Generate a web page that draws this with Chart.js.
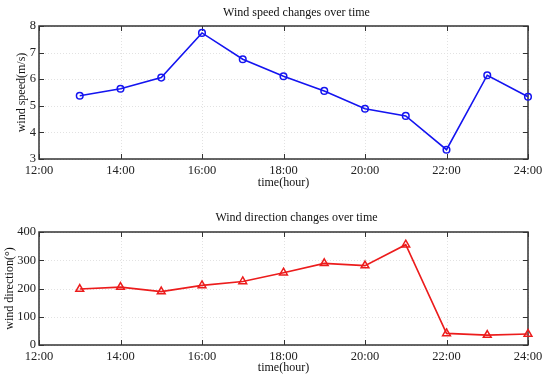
<!DOCTYPE html>
<html>
<head>
<meta charset="utf-8">
<script src="https://cdn.jsdelivr.net/npm/chart.js@4/dist/chart.umd.min.js"></script>
<style>
  body { margin: 0; background: #fff; }
  .box { position: absolute; left: 0; width: 550px; height: 190px; }
</style>
</head>
<body>
<div class="box" style="top:0"><canvas id="speedChart"></canvas></div>
<div class="box" style="top:190px"><canvas id="dirChart"></canvas></div>
<script>
// hours of the day (13:00 .. 24:00)
const hours = [13, 14, 15, 16, 17, 18, 19, 20, 21, 22, 23, 24];
const windSpeed = [5.38, 5.64, 6.06, 7.74, 6.75, 6.11, 5.56, 4.89, 4.62, 3.35, 6.15, 5.34];
const windDirection = [198, 205, 189, 211, 225, 256, 289, 281, 355, 41, 35, 39];

const serif = "'Liberation Serif', 'Times New Roman', serif";

// matlab-like box: dotted grid, black frame, ticks pointing inward on all sides
const matlabBox = {
  id: 'matlabBox',
  afterLayout(chart) {
    // title sits a bit right of the axes centre in the original
    const t = chart.titleBlock;
    t.left += 13;
    t.right += 13;
  },
  beforeDatasetsDraw(chart) {
    const { ctx, chartArea: a, scales: { x, y } } = chart;
    ctx.save();
    ctx.strokeStyle = '#e2e2e2';
    ctx.lineWidth = 1;
    ctx.setLineDash([1, 2]);
    x.ticks.forEach(t => {
      const px = Math.round(x.getPixelForValue(t.value)) + 0.5;
      ctx.beginPath(); ctx.moveTo(px, a.top); ctx.lineTo(px, a.bottom); ctx.stroke();
    });
    y.ticks.forEach(t => {
      const py = Math.round(y.getPixelForValue(t.value)) + 0.5;
      ctx.beginPath(); ctx.moveTo(a.left, py); ctx.lineTo(a.right, py); ctx.stroke();
    });
    ctx.setLineDash([]);
    ctx.strokeStyle = '#333';
    ctx.lineWidth = 1.5;
    ctx.strokeRect(a.left, a.top, a.right - a.left, a.bottom - a.top);
    ctx.lineWidth = 1;
    const len = 5;
    x.ticks.forEach(t => {
      const px = Math.round(x.getPixelForValue(t.value)) + 0.5;
      ctx.beginPath();
      ctx.moveTo(px, a.bottom); ctx.lineTo(px, a.bottom - len);
      ctx.moveTo(px, a.top); ctx.lineTo(px, a.top + len);
      ctx.stroke();
    });
    y.ticks.forEach(t => {
      const py = Math.round(y.getPixelForValue(t.value)) + 0.5;
      ctx.beginPath();
      ctx.moveTo(a.left, py); ctx.lineTo(a.left + len, py);
      ctx.moveTo(a.right, py); ctx.lineTo(a.right - len, py);
      ctx.stroke();
    });
    ctx.restore();
  }
};

function makeChart(id, opts) {
  return new Chart(document.getElementById(id), {
    type: 'line',
    data: {
      datasets: [{
        data: hours.map((h, i) => ({ x: h, y: opts.values[i] })),
        borderColor: opts.color,
        borderWidth: 1.6,
        pointStyle: opts.marker,
        pointRadius: opts.markerSize,
        pointBorderWidth: 1.5,
        pointBorderColor: opts.color,
        pointBackgroundColor: 'rgba(0,0,0,0)',
        tension: 0,
        clip: false
      }]
    },
    options: {
      responsive: true,
      maintainAspectRatio: false,
      animation: false,
      events: [],
      layout: { padding: { left: 0, right: 22, bottom: opts.padBottom } },
      plugins: {
        legend: { display: false },
        tooltip: { enabled: false },
        title: {
          display: true,
          fullSize: false,
          text: opts.title,
          color: '#111',
          font: { family: serif, size: 12, weight: 'normal' },
          padding: opts.titlePad
        }
      },
      scales: {
        x: {
          type: 'linear',
          min: 12, max: 24,
          grid: { display: false, drawTicks: false, tickLength: 0 },
          border: { display: false },
          ticks: {
            stepSize: 2,
            padding: 4,
            color: '#222',
            font: { family: serif, size: 12.5 },
            maxRotation: 0,
            callback: v => v + ':00'
          },
          title: {
            display: true,
            text: 'time(hour)',
            color: '#111',
            font: { family: serif, size: 12 },
            padding: { top: 0, bottom: 0 }
          },
          afterFit: s => { s.height = opts.xHeight; }
        },
        y: {
          min: opts.yMin, max: opts.yMax,
          grid: { display: false, drawTicks: false, tickLength: 0 },
          border: { display: false },
          ticks: {
            stepSize: opts.yStep,
            padding: 3,
            color: '#222',
            font: { family: serif, size: 12.5 }
          },
          title: {
            display: true,
            text: opts.yTitle,
            color: '#111',
            font: { family: serif, size: 12 },
            padding: { top: opts.yTitleGap, bottom: 0 }
          },
          afterFit: s => { s.width = 39; }
        }
      }
    },
    plugins: [matlabBox]
  });
}

makeChart('speedChart', {
  values: windSpeed,
  color: '#1414f0',
  marker: 'circle',
  markerSize: 3.3,
  title: 'Wind speed changes over time',
  titlePad: { top: 6, bottom: 5.6 },
  yTitle: 'wind speed(m/s)',
  yTitleGap: 15,
  yMin: 3, yMax: 8, yStep: 1,
  xHeight: 31, padBottom: 0
});

makeChart('dirChart', {
  values: windDirection,
  color: '#ec1c1c',
  marker: 'triangle',
  markerSize: 4.5,
  title: 'Wind direction changes over time',
  titlePad: { top: 20.8, bottom: 6.8 },
  yTitle: 'wind direction(°)',
  yTitleGap: 3,
  yMin: 0, yMax: 400, yStep: 100,
  xHeight: 30, padBottom: 5
});
</script>
</body>
</html>
